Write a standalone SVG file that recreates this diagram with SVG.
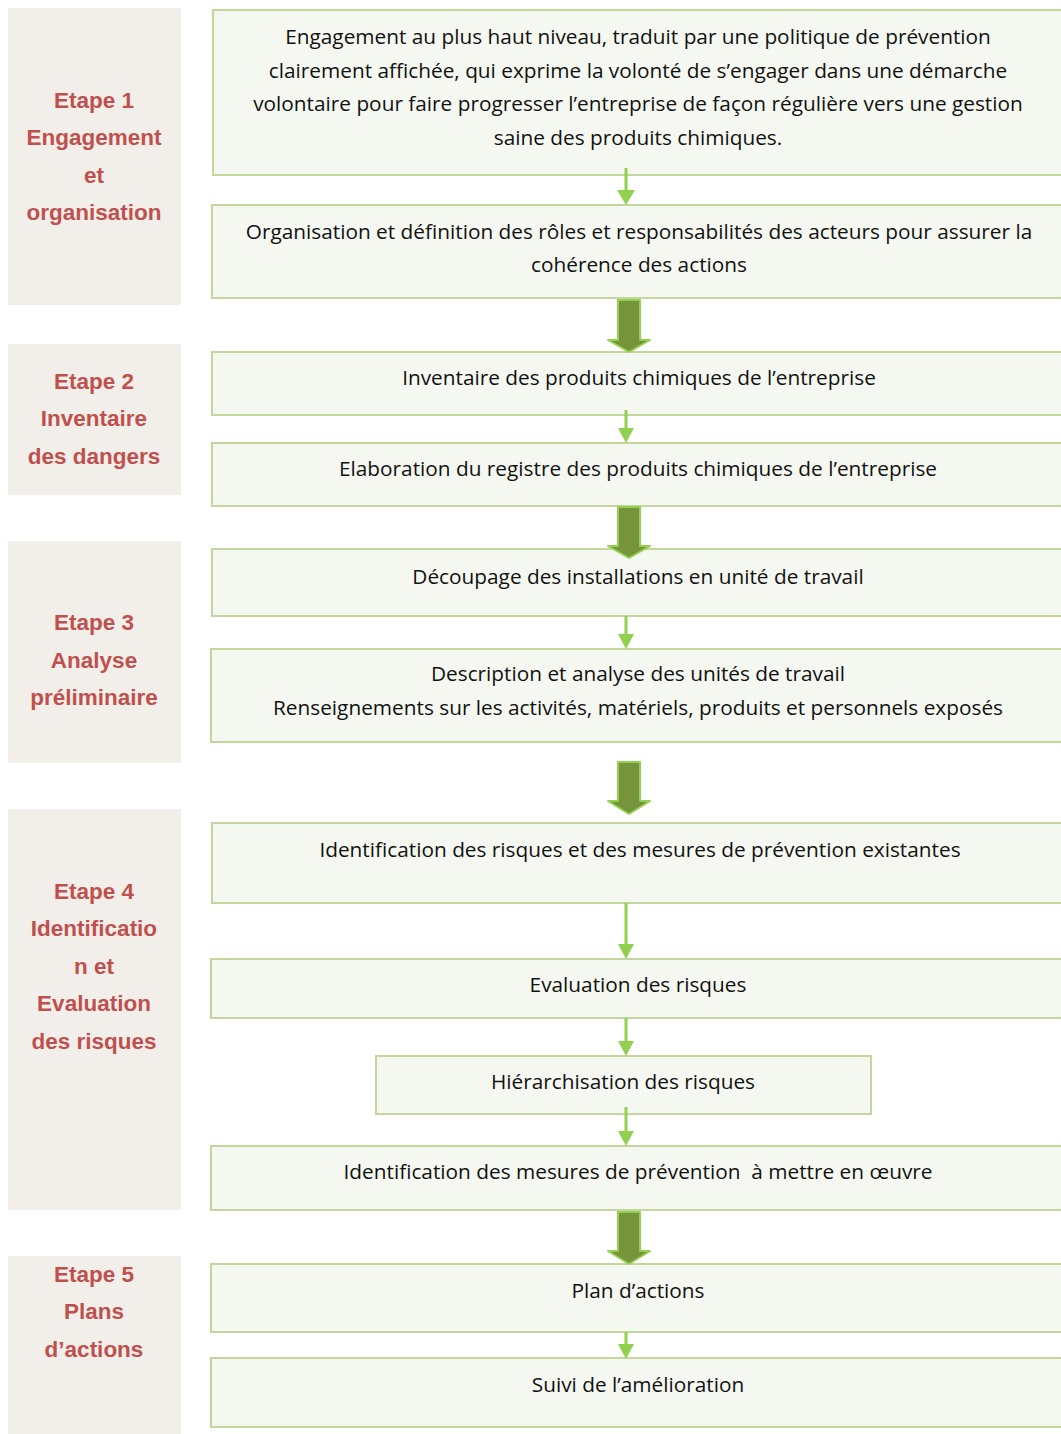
<svg xmlns="http://www.w3.org/2000/svg" width="1061" height="1434" viewBox="0 0 1061 1434">
<defs>
<style>
.stage{fill:#F2EFEA;}
.st{font-family:"Liberation Sans",Arial,sans-serif;font-size:22.5px;font-weight:bold;fill:#C0504D;text-anchor:middle;}
.box{fill:#F5F8F0;stroke:#C3D69B;stroke-width:2;}
.bt{font-family:"Open Sans","Liberation Sans",Arial,sans-serif;font-size:20.8px;fill:#111;text-anchor:middle;}
.thin{stroke:#92D050;stroke-width:3;fill:none;}
.thead{fill:#92D050;}
.thick{fill:#77933C;stroke:#92D050;stroke-width:2;stroke-linejoin:round;}
</style>
</defs>
<rect width="1061" height="1434" fill="#FFFFFF"/>
<g id="etape1"><rect class="stage" x="8" y="8" width="173" height="297"/>
<text class="st"><tspan x="94" y="108">Etape 1</tspan><tspan x="94" y="145">Engagement</tspan><tspan x="94" y="183">et</tspan><tspan x="94" y="220">organisation</tspan></text></g>
<g id="etape2"><rect class="stage" x="8" y="344" width="173" height="151"/>
<text class="st"><tspan x="94" y="389">Etape 2</tspan><tspan x="94" y="426">Inventaire</tspan><tspan x="94" y="464">des dangers</tspan></text></g>
<g id="etape3"><rect class="stage" x="8" y="541" width="173" height="222"/>
<text class="st"><tspan x="94" y="630">Etape 3</tspan><tspan x="94" y="668">Analyse</tspan><tspan x="94" y="705">préliminaire</tspan></text></g>
<g id="etape4"><rect class="stage" x="8" y="809" width="173" height="401"/>
<text class="st"><tspan x="94" y="899">Etape 4</tspan><tspan x="94" y="936">Identificatio</tspan><tspan x="94" y="974">n et</tspan><tspan x="94" y="1011">Evaluation</tspan><tspan x="94" y="1049">des risques</tspan></text></g>
<g id="etape5"><rect class="stage" x="8" y="1256" width="173" height="178"/>
<text class="st"><tspan x="94" y="1282">Etape 5</tspan><tspan x="94" y="1319">Plans</tspan><tspan x="94" y="1357">d’actions</tspan></text></g>

<g id="n1"><rect class="box" x="213" y="10" width="850" height="165"/>
<text class="bt"><tspan x="638" y="44">Engagement au plus haut niveau, traduit par une politique de prévention</tspan><tspan x="638" y="78">clairement affichée, qui exprime la volonté de s’engager dans une démarche</tspan><tspan x="638" y="111">volontaire pour faire progresser l’entreprise de façon régulière vers une gestion</tspan><tspan x="638" y="145">saine des produits chimiques.</tspan></text></g>
<g id="n2"><rect class="box" x="212" y="205" width="851" height="93"/>
<text class="bt"><tspan x="639" y="239">Organisation et définition des rôles et responsabilités des acteurs pour assurer la</tspan><tspan x="639" y="272">cohérence des actions</tspan></text></g>
<g id="n3"><rect class="box" x="212" y="352" width="851" height="63"/>
<text class="bt" x="639" y="385">Inventaire des produits chimiques de l’entreprise</text></g>
<g id="n4"><rect class="box" x="212" y="443" width="851" height="63"/>
<text class="bt" x="638" y="476">Elaboration du registre des produits chimiques de l’entreprise</text></g>
<g id="n5"><rect class="box" x="212" y="549" width="851" height="67"/>
<text class="bt" x="638" y="584">Découpage des installations en unité de travail</text></g>
<g id="n6"><rect class="box" x="211" y="649" width="852" height="93"/>
<text class="bt"><tspan x="638" y="681">Description et analyse des unités de travail</tspan><tspan x="638" y="715">Renseignements sur les activités, matériels, produits et personnels exposés</tspan></text></g>
<g id="n7"><rect class="box" x="212" y="823" width="851" height="80"/>
<text class="bt" x="640" y="857">Identification des risques et des mesures de prévention existantes</text></g>
<g id="n8"><rect class="box" x="211" y="959" width="852" height="59"/>
<text class="bt" x="638" y="992">Evaluation des risques</text></g>
<g id="n9"><rect class="box" x="376" y="1056" width="495" height="58"/>
<text class="bt" x="623" y="1089">Hiérarchisation des risques</text></g>
<g id="n10"><rect class="box" x="211" y="1146" width="852" height="64"/>
<text class="bt" x="638" y="1179" style="white-space:pre">Identification des mesures de prévention  à mettre en œuvre</text></g>
<g id="n11"><rect class="box" x="211" y="1264" width="852" height="68"/>
<text class="bt" x="638" y="1298">Plan d’actions</text></g>
<g id="n12"><rect class="box" x="211" y="1358" width="852" height="69"/>
<text class="bt" x="638" y="1392">Suivi de l’amélioration</text></g>

<g id="connectors">
<line class="thin" x1="626" y1="168" x2="626" y2="192"/><polygon class="thead" points="617,190 635,190 626,205"/>
<line class="thin" x1="626" y1="410" x2="626" y2="430"/><polygon class="thead" points="618,428 634,428 626,443"/>
<line class="thin" x1="626" y1="616" x2="626" y2="636"/><polygon class="thead" points="618,634 634,634 626,649"/>
<line class="thin" x1="626" y1="903" x2="626" y2="946"/><polygon class="thead" points="618,944 634,944 626,959"/>
<line class="thin" x1="626" y1="1018" x2="626" y2="1043"/><polygon class="thead" points="618,1041 634,1041 626,1056"/>
<line class="thin" x1="626" y1="1107" x2="626" y2="1133"/><polygon class="thead" points="618,1131 634,1131 626,1146"/>
<line class="thin" x1="626" y1="1332" x2="626" y2="1346"/><polygon class="thead" points="618,1344 634,1344 626,1359"/>
<polygon class="thick" points="618,300 640,300 640,340 650,340 629,352 608,340 618,340"/>
<polygon class="thick" points="618,507 640,507 640,546 650,546 629,558 608,546 618,546"/>
<polygon class="thick" points="618,762 640,762 640,801 650,801 629,814 608,801 618,801"/>
<polygon class="thick" points="618,1212 640,1212 640,1251 650,1251 629,1264 608,1251 618,1251"/>
</g>
</svg>
